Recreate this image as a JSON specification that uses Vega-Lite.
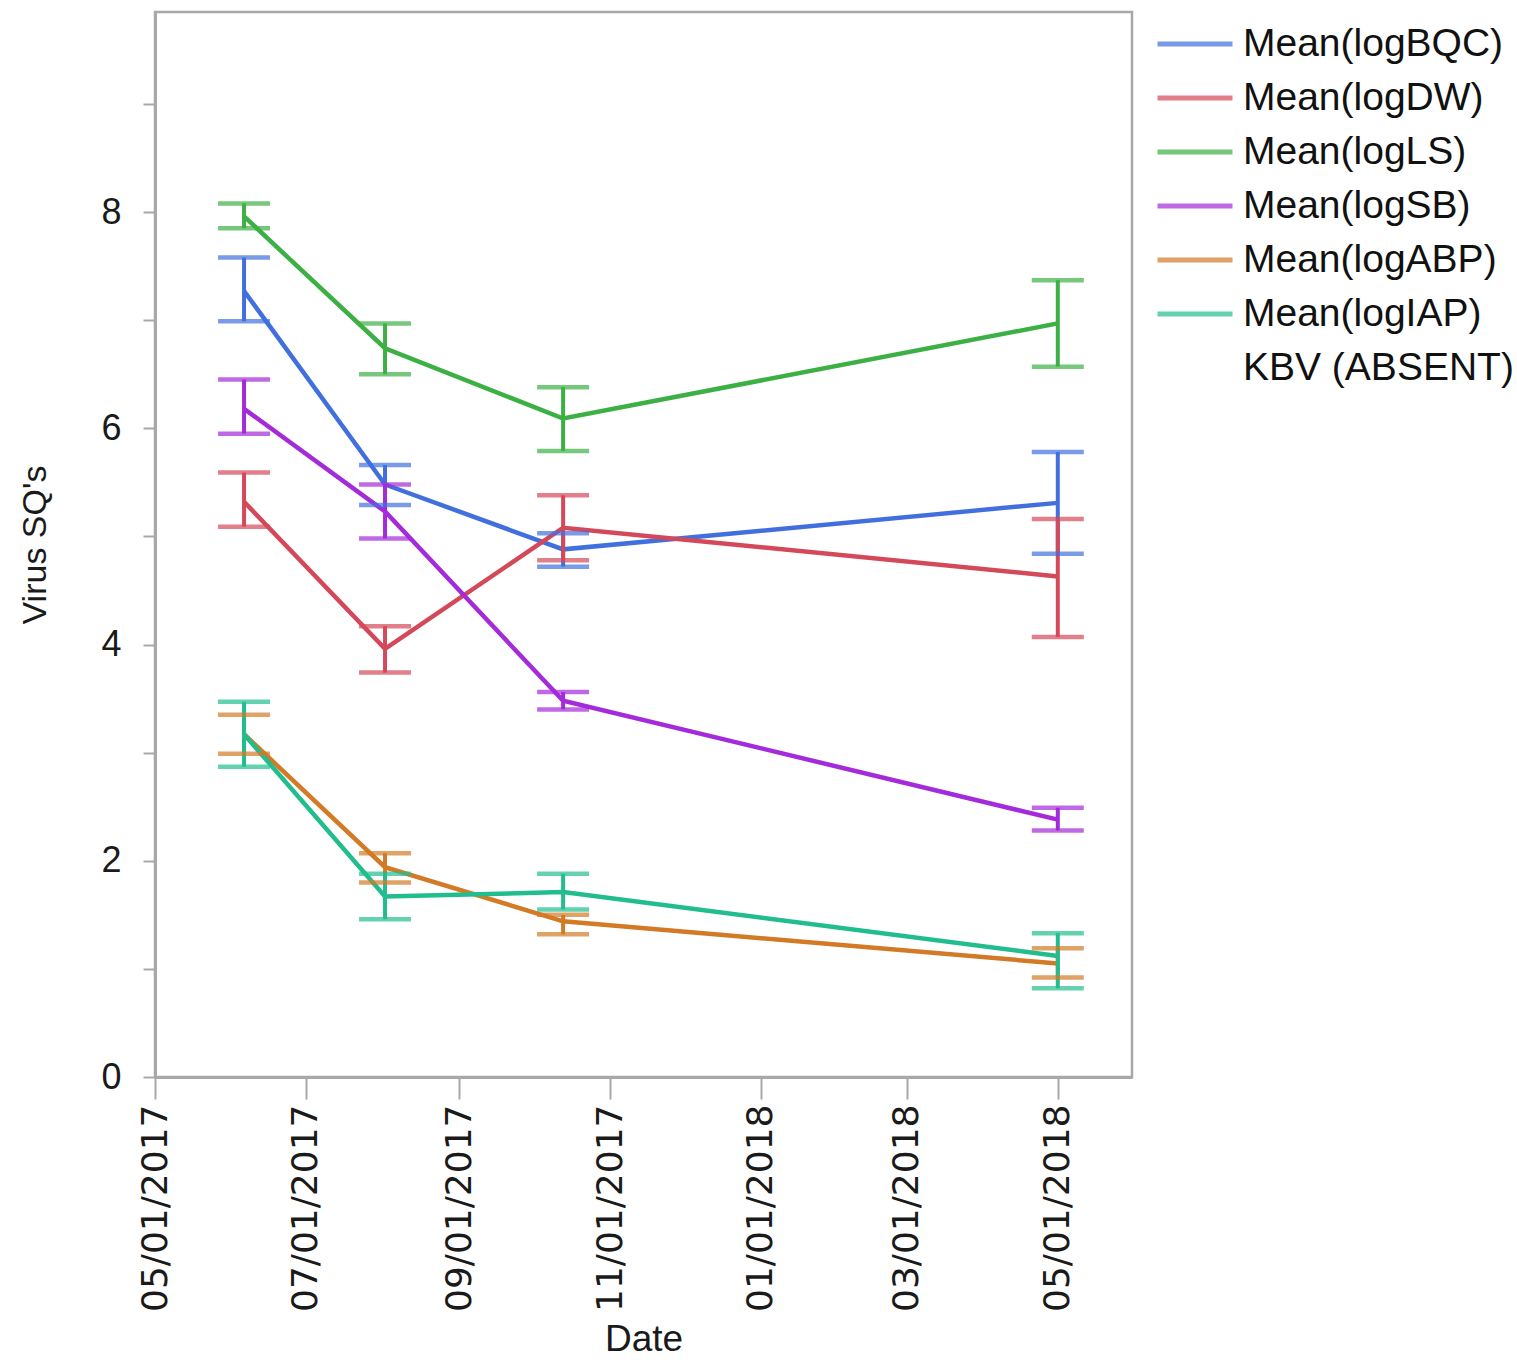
{
  "$schema": "https://vega.github.io/schema/vega-lite/v6.json",
  "width": 977,
  "height": 1065,
  "autosize": {"type": "none"},
  "padding": {"left": 155, "top": 12, "right": 385, "bottom": 285},
  "background": "white",
  "config": {
    "font": "Liberation Sans",
    "view": {"stroke": "#a8a8a8", "strokeWidth": 2.5},
    "axis": {"grid": false, "domainColor": "#a8a8a8", "domainWidth": 3, "tickColor": "#a8a8a8", "tickWidth": 2, "labelColor": "#1a1a1a", "titleColor": "#1a1a1a", "titleFontWeight": "normal"}
  },
  "data": {
    "values": [
      {"s": "Mean(logBQC)", "d": "2017-06-06", "m": 7.27, "lo": 6.99, "hi": 7.58},
      {"s": "Mean(logBQC)", "d": "2017-08-02", "m": 5.48, "lo": 5.29, "hi": 5.66},
      {"s": "Mean(logBQC)", "d": "2017-10-13", "m": 4.88, "lo": 4.72, "hi": 5.03},
      {"s": "Mean(logBQC)", "d": "2018-05-01", "m": 5.31, "lo": 4.84, "hi": 5.78},
      {"s": "Mean(logDW)", "d": "2017-06-06", "m": 5.32, "lo": 5.09, "hi": 5.59},
      {"s": "Mean(logDW)", "d": "2017-08-02", "m": 3.96, "lo": 3.74, "hi": 4.17},
      {"s": "Mean(logDW)", "d": "2017-10-13", "m": 5.08, "lo": 4.78, "hi": 5.38},
      {"s": "Mean(logDW)", "d": "2018-05-01", "m": 4.63, "lo": 4.07, "hi": 5.16},
      {"s": "Mean(logLS)", "d": "2017-06-06", "m": 7.96, "lo": 7.85, "hi": 8.08},
      {"s": "Mean(logLS)", "d": "2017-08-02", "m": 6.74, "lo": 6.50, "hi": 6.97},
      {"s": "Mean(logLS)", "d": "2017-10-13", "m": 6.09, "lo": 5.79, "hi": 6.38},
      {"s": "Mean(logLS)", "d": "2018-05-01", "m": 6.97, "lo": 6.57, "hi": 7.37},
      {"s": "Mean(logSB)", "d": "2017-06-06", "m": 6.18, "lo": 5.95, "hi": 6.45},
      {"s": "Mean(logSB)", "d": "2017-08-02", "m": 5.23, "lo": 4.98, "hi": 5.48},
      {"s": "Mean(logSB)", "d": "2017-10-13", "m": 3.48, "lo": 3.40, "hi": 3.56},
      {"s": "Mean(logSB)", "d": "2018-05-01", "m": 2.38, "lo": 2.28, "hi": 2.49},
      {"s": "Mean(logABP)", "d": "2017-06-06", "m": 3.17, "lo": 2.99, "hi": 3.35},
      {"s": "Mean(logABP)", "d": "2017-08-02", "m": 1.94, "lo": 1.80, "hi": 2.07},
      {"s": "Mean(logABP)", "d": "2017-10-13", "m": 1.44, "lo": 1.32, "hi": 1.50},
      {"s": "Mean(logABP)", "d": "2018-05-01", "m": 1.05, "lo": 0.92, "hi": 1.19},
      {"s": "Mean(logIAP)", "d": "2017-06-06", "m": 3.17, "lo": 2.87, "hi": 3.47},
      {"s": "Mean(logIAP)", "d": "2017-08-02", "m": 1.67, "lo": 1.46, "hi": 1.88},
      {"s": "Mean(logIAP)", "d": "2017-10-13", "m": 1.71, "lo": 1.55, "hi": 1.88},
      {"s": "Mean(logIAP)", "d": "2018-05-01", "m": 1.12, "lo": 0.82, "hi": 1.33}
    ]
  },
  "encoding": {
    "x": {
      "field": "d", "type": "temporal",
      "scale": {"type": "utc", "domain": [{"year": 2017, "month": 5, "date": 1, "utc": true}, {"year": 2018, "month": 5, "date": 31, "utc": true}]},
      "axis": {
        "title": "Date", "titleFontSize": 37, "titlePadding": 44,
        "values": [
          {"year": 2017, "month": 5, "date": 1, "utc": true},
          {"year": 2017, "month": 7, "date": 1, "utc": true},
          {"year": 2017, "month": 9, "date": 1, "utc": true},
          {"year": 2017, "month": 11, "date": 1, "utc": true},
          {"year": 2018, "month": 1, "date": 1, "utc": true},
          {"year": 2018, "month": 3, "date": 1, "utc": true},
          {"year": 2018, "month": 5, "date": 1, "utc": true}
        ],
        "labelExpr": "utcFormat(datum.value, '%m/%d/%Y')",
        "labelAngle": -90, "labelFont": "DejaVu Sans", "labelFontSize": 36, "labelPadding": 5,
        "tickSize": 22, "labelOverlap": false, "labelFlush": false, "labelLimit": 400
      }
    },
    "color": {
      "field": "s", "type": "nominal",
      "scale": {
        "domain": ["Mean(logBQC)", "Mean(logDW)", "Mean(logLS)", "Mean(logSB)", "Mean(logABP)", "Mean(logIAP)", "KBV (ABSENT)"],
        "range": ["#4170de", "#d4495a", "#3cb044", "#a42bd9", "#d27a26", "#22bd8e", "transparent"]
      },
      "legend": {
        "title": null, "orient": "none", "legendX": 1000, "legendY": 5,
        "symbolType": "stroke", "symbolSize": 5625, "symbolStrokeWidth": 5,
        "labelFontSize": 39, "labelColor": "#111111", "labelOffset": 8, "labelLimit": 400,
        "clipHeight": 54, "rowPadding": 0
      }
    }
  },
  "layer": [
    {
      "mark": {"type": "line", "strokeWidth": 4.5},
      "encoding": {
        "y": {
          "field": "m", "type": "quantitative",
          "scale": {"domain": [0, 9.85], "nice": false, "zero": true},
          "axis": {
            "title": "Virus SQ's", "titleFontSize": 34, "titlePadding": 48,
            "values": [0, 1, 2, 3, 4, 5, 6, 7, 8, 9],
            "labelExpr": "datum.value % 2 == 0 ? format(datum.value, 'd') : ''",
            "labelFontSize": 36, "labelPadding": 22, "tickSize": 12
          }
        }
      }
    },
    {
      "mark": {"type": "rule", "strokeWidth": 4},
      "encoding": {"y": {"field": "lo", "type": "quantitative"}, "y2": {"field": "hi"}}
    },
    {
      "mark": {"type": "tick", "orient": "horizontal", "size": 52, "thickness": 4.5},
      "encoding": {"y": {"field": "lo", "type": "quantitative"}}
    },
    {
      "mark": {"type": "tick", "orient": "horizontal", "size": 52, "thickness": 4.5},
      "encoding": {"y": {"field": "hi", "type": "quantitative"}}
    }
  ]
}
